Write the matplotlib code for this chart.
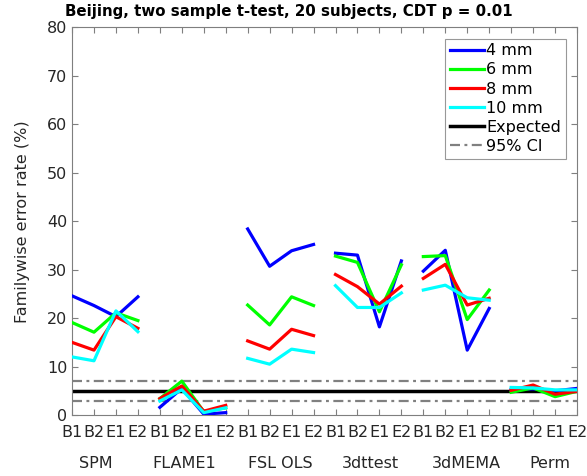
import numpy as np
import matplotlib.pyplot as plt
from matplotlib.transforms import blended_transform_factory

# FWE rates (%) per method, 4 designs each (B1, B2, E1, E2)
methods = ["SPM", "FLAME1", "FSL OLS", "3dttest", "3dMEMA", "Perm"]
designs = ["B1", "B2", "E1", "E2"]

fwe_4mm = [24.6, 22.6, 20.3, 24.4, 1.6, 5.5, 0.2, 0.5, 38.4, 30.7, 33.9, 35.2,
           33.4, 33.0, 18.2, 31.8, 29.7, 34.0, 13.4, 22.0, 5.3, 5.4, 5.0, 5.5]
fwe_6mm = [19.1, 17.1, 21.1, 19.5, 3.4, 7.0, 0.7, 1.5, 22.7, 18.6, 24.4, 22.6,
           32.8, 31.5, 21.3, 31.0, 32.7, 32.9, 19.7, 25.8, 4.7, 5.6, 3.8, 4.9]
fwe_8mm = [15.0, 13.4, 20.3, 17.9, 3.4, 6.0, 0.8, 2.0, 15.3, 13.6, 17.7, 16.4,
           29.0, 26.5, 22.9, 26.6, 28.2, 31.1, 22.7, 24.1, 5.1, 6.2, 4.3, 4.9]
fwe_10mm = [12.0, 11.2, 21.5, 17.2, 2.9, 5.2, 0.5, 1.5, 11.7, 10.5, 13.6, 12.9,
            26.7, 22.2, 22.2, 25.2, 25.8, 26.8, 24.2, 23.7, 5.7, 5.6, 5.2, 5.2]

expected = 5.0
ci_low, ci_high = 2.9, 7.1

series = [("4 mm", fwe_4mm, (0, 0, 1)),
          ("6 mm", fwe_6mm, (0, 1, 0)),
          ("8 mm", fwe_8mm, (1, 0, 0)),
          ("10 mm", fwe_10mm, (0, 1, 1))]

# label x centres for the method names (data units)
method_label_x = [2.08, 6.12, 10.47, 14.6, 18.94, 22.77]

plt.rcParams['font.family'] = 'DejaVu Sans'
text_col = '#262626'
axis_col = '#7f7f7f'
ci_style = (0, (4.5, 2, 1.3, 2))  # dash-dot

fig = plt.figure(figsize=(5.87, 4.76), dpi=100)
ax = fig.add_axes([0.1227, 0.128, 0.8603, 0.8146])

x = np.arange(1, 25)
n = len(designs)
for label, vals, col in series:
    vals = np.array(vals)
    for g in range(len(methods)):
        sl = slice(g * n, (g + 1) * n)
        ax.plot(x[sl], vals[sl], color=col, lw=2.3,
                label=label if g == 0 else None, zorder=3)

ax.plot([1, 24], [expected, expected], color='k', lw=2.5, label='Expected', zorder=2)
ax.plot([1, 24], [ci_high, ci_high], color='#808080', lw=1.6, ls=ci_style, label='95% CI', zorder=2)
ax.plot([1, 24], [ci_low, ci_low], color='#808080', lw=1.6, ls=ci_style, zorder=2)

ax.set_xlim(1, 24)
ax.set_ylim(0, 80)
ax.set_xticks(x)
ax.set_xticklabels(designs * len(methods))
ax.set_yticks(np.arange(0, 81, 10))

ax.tick_params(direction='in', length=4, width=0.8, colors=axis_col,
               labelcolor=text_col, labelsize=11.5, top=True, right=True)
ax.tick_params(axis='x', pad=7)
for sp in ax.spines.values():
    sp.set_color(axis_col)
    sp.set_linewidth(0.8)

ax.set_ylabel("Familywise error rate (%)", fontsize=11.5, color=text_col, labelpad=12)
ax.set_title("Beijing, two sample t-test, 20 subjects, CDT p = 0.01",
             fontsize=10.8, fontweight='bold', color='k', x=0.43, pad=8)

trans = blended_transform_factory(ax.transData, ax.transAxes)
for name, xm in zip(methods, method_label_x):
    ax.text(xm, -0.124, name, transform=trans, ha='center', va='center',
            fontsize=11.5, color=text_col)

leg = ax.legend(loc='upper right', fontsize=11.5, frameon=True, fancybox=False,
                handlelength=2.1, handletextpad=0.15, labelspacing=0.26,
                borderpad=0.3, borderaxespad=0.7)
leg.get_frame().set_edgecolor(axis_col)
leg.get_frame().set_linewidth(0.8)

fig.savefig("out.png", dpi=100)
